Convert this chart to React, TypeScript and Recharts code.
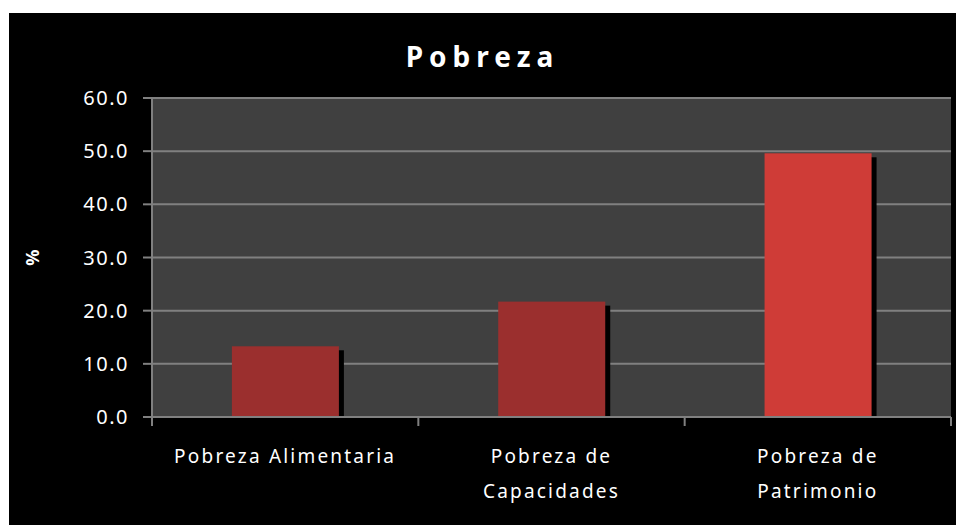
import React from 'react'
import { BarChart, Bar, CartesianGrid, XAxis, YAxis, Cell, Label } from 'recharts'

const categories = ['Pobreza Alimentaria', 'Pobreza de Capacidades', 'Pobreza de Patrimonio']
const tickLines = [['Pobreza Alimentaria'], ['Pobreza de', 'Capacidades'], ['Pobreza de', 'Patrimonio']]
const values = [13.3, 21.7, 49.6]
const barColors = ['#9b2f2e', '#9b2f2e', '#cf3c37']
const yTicks = [0, 10, 20, 30, 40, 50, 60]

const data = categories.map((name, i) => ({ name, valor: values[i], lines: tickLines[i] }))

const W = 947
const H = 512
const M = { top: 85, right: 5, left: 0, bottom: 8 }
const Y_W = 143
const plotW = W - M.left - M.right - Y_W
const band = plotW / categories.length
const font = '"Noto Sans", sans-serif'

function ShadowBar(props: any) {
  const { x, y, width, height, fill } = props
  return (
    <g>
      <rect x={x + 5} y={y + 4} width={width} height={Math.max(height - 4, 0)} fill="#000" />
      <rect x={x} y={y} width={width} height={height} fill={fill} />
    </g>
  )
}

function CatTick(props: any) {
  const { x, y, payload, index } = props
  const lines = tickLines[index] || [payload.value]
  return (
    <g>
      <line x1={x - band / 2} y1={y - 8} x2={x - band / 2} y2={y + 1} stroke="#808080" strokeWidth={2} />
      {index === categories.length - 1 && (
        <line x1={x + band / 2} y1={y - 8} x2={x + band / 2} y2={y + 1} stroke="#808080" strokeWidth={2} />
      )}
      {lines.map((l: string, i: number) => (
        <text key={i} x={x} y={y + 38 + i * 35} textAnchor="middle" fill="#fff" fontSize={19}
          fontFamily={font} letterSpacing={2.2}>{l}</text>
      ))}
    </g>
  )
}

export default function App() {
  return (
    <div style={{ position: 'fixed', left: 9, top: 13, width: W, height: H, background: '#000' }}>
      <div style={{ position: 'absolute', left: 0, top: 24, width: W, textAlign: 'center', color: '#fff',
        fontFamily: font, fontWeight: 700, fontSize: 28, letterSpacing: 6 }}>Pobreza</div>
      <BarChart width={W} height={H} data={data} margin={M} barCategoryGap="30%">
        <CartesianGrid fill="#404040" vertical={false} stroke="#808080" strokeWidth={2} />
        <XAxis dataKey="name" interval={0} height={100} tickLine={false} axisLine={{ stroke: '#808080', strokeWidth: 2 }}
          tick={<CatTick />} />
        <YAxis width={Y_W} domain={[0, 60]} ticks={yTicks} interval={0} tickFormatter={(v: number) => v.toFixed(1)}
          axisLine={{ stroke: '#808080', strokeWidth: 2 }} tickLine={{ stroke: '#808080', strokeWidth: 2 }} tickSize={9}
          tickMargin={14} tick={{ fill: '#fff', fontSize: 20, fontFamily: font, letterSpacing: 1.5 }}>
          <Label content={(p: any) => {
            const vb = p.viewBox
            return <text x={vb.x + 23} y={vb.y + vb.height / 2} transform={`rotate(-90 ${vb.x + 23} ${vb.y + vb.height / 2})`}
              textAnchor="middle" dominantBaseline="central" fill="#fff" fontSize={18} fontWeight={700} fontFamily={font}>%</text>
          }} />
        </YAxis>
        <Bar dataKey="valor" isAnimationActive={false} shape={<ShadowBar />}>
          {data.map((d, i) => <Cell key={d.name} fill={barColors[i]} />)}
        </Bar>
      </BarChart>
    </div>
  )
}
